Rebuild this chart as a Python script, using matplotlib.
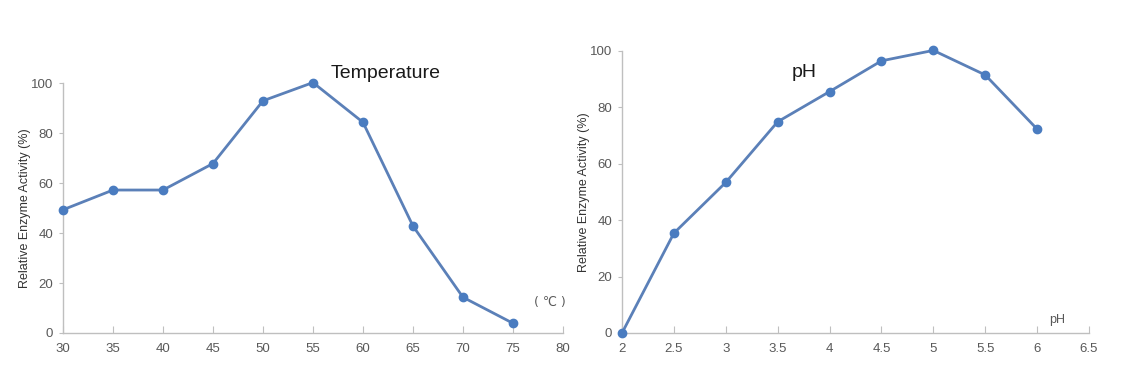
import matplotlib
matplotlib.use("Agg")
import matplotlib.pyplot as plt

temp_x = [30, 35, 40, 45, 50, 55, 60, 65, 70, 75]
temp_y = [49.3, 57.2, 57.2, 67.8, 92.9, 100.2, 84.3, 42.8, 14.3, 3.9]
ph_x = [2, 2.5, 3, 3.5, 4, 4.5, 5, 5.5, 6]
ph_y = [0.0, 35.4, 53.4, 74.9, 85.6, 96.5, 100.2, 91.5, 72.3]
temp_ticks = [30, 35, 40, 45, 50, 55, 60, 65, 70, 75, 80]
ph_ticks = [2, 2.5, 3, 3.5, 4, 4.5, 5, 5.5, 6, 6.5]
ph_ticklabels = ["2", "2.5", "3", "3.5", "4", "4.5", "5", "5.5", "6", "6.5"]
y_ticks = [0, 20, 40, 60, 80, 100]

plt.rcParams['font.family'] = ['Liberation Sans', 'DejaVu Sans']

line_c = '#5b80b8'
mark_c = '#4a7cc0'
axis_c = '#bfbfbf'
lab_c = '#595959'

fig = plt.figure(figsize=(11.25, 3.81), dpi=100)
ax1 = fig.add_axes([0.056, 0.126, 0.4444, 0.656])
ax2 = fig.add_axes([0.5529, 0.126, 0.4151, 0.7402])

def style(ax):
    for s in ['top', 'right']:
        ax.spines[s].set_visible(False)
    for s in ['left', 'bottom']:
        ax.spines[s].set_color(axis_c)
        ax.spines[s].set_linewidth(1.0)
    ax.tick_params(axis='x', direction='in', length=5, color=axis_c,
                   labelcolor=lab_c, labelsize=9.5, pad=7)
    ax.tick_params(axis='y', direction='out', length=3, color=axis_c,
                   labelcolor=lab_c, labelsize=9.5, pad=4)
    ax.set_ylim(0, 100)
    ax.set_yticks(y_ticks)
    ax.set_ylabel('Relative Enzyme Activity (%)', fontsize=9, color='#333333', labelpad=0)

ax1.plot(temp_x, temp_y, color=line_c, lw=2, marker='o', ms=6,
         mfc=mark_c, mec=mark_c, clip_on=False, zorder=3)
ax1.set_xlim(30, 80)
ax1.set_xticks(temp_ticks)
style(ax1)
ax1.text(56.8, 104, 'Temperature', fontsize=14, color='#1a1a1a', ha='left', va='center')
ax1.text(78.7, 12.4, '( ℃ )', fontsize=9, color=lab_c, ha='center', va='center',
         family=['DejaVu Sans'])

ax2.plot(ph_x, ph_y, color=line_c, lw=2, marker='o', ms=6,
         mfc=mark_c, mec=mark_c, clip_on=False, zorder=3)
ax2.set_xlim(2, 6.5)
ax2.set_xticks(ph_ticks)
ax2.set_xticklabels(ph_ticklabels)
style(ax2)
ax2.text(3.76, 92.2, 'pH', fontsize=14, color='#1a1a1a', ha='center', va='center')
ax2.text(6.19, 4.6, 'pH', fontsize=9, color=lab_c, ha='center', va='center')

fig.savefig('out.png', dpi=100)
